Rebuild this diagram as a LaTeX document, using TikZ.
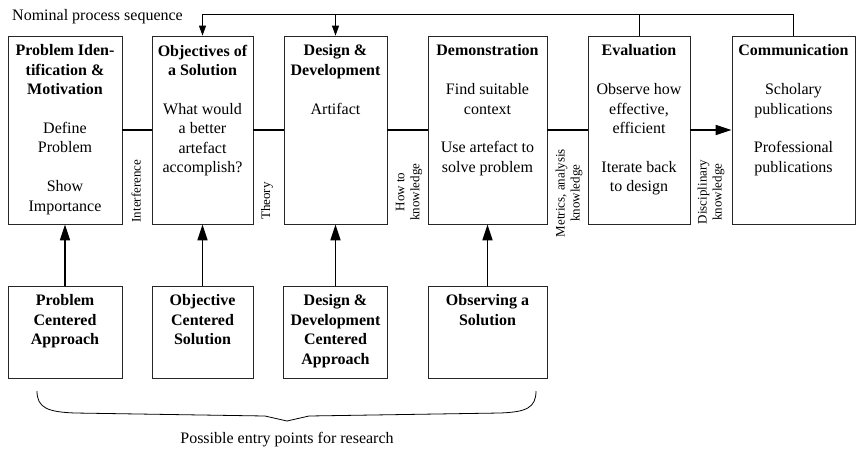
\documentclass[tikz,border=0pt]{standalone}
\usepackage{fontspec}
\setmainfont{Liberation Serif}
\usetikzlibrary{arrows.meta}
\begin{document}
\begin{tikzpicture}[x=1pt,y=-1pt,
  box/.style={draw=black!85, line width=0.8pt, inner sep=0pt},
  boxtext/.style={anchor=north, align=center, inner sep=0pt, yshift=-9pt,
    font=\fontsize{16}{19.4}\selectfont},
  sidelabel/.style={rotate=90, align=center, inner sep=0pt,
    font=\fontsize{13}{15}\selectfont},
  plain/.style={inner sep=0pt, font=\fontsize{16}{19.4}\selectfont},
  link/.style={line width=1.5pt},
  linktip/.style={line width=1.5pt, -{Triangle[length=16pt,width=10pt]}},
  uparrow/.style={line width=1.6pt, -{Triangle[length=16pt,width=10pt]}},
  feed/.style={line width=0.9pt},
  feedtip/.style={line width=0.9pt, -{Triangle[length=10pt,width=7pt]}},
  brace/.style={line width=0.8pt},
]
\useasboundingbox (0,0) rectangle (857,451);

% process stages
\node[box, minimum width=114pt, minimum height=188pt] (b1) at (65,130) {};
\node[box, minimum width=101pt, minimum height=188pt] (b2) at (202.5,130) {};
\node[box, minimum width=103pt, minimum height=188pt] (b3) at (335.5,130) {};
\node[box, minimum width=119pt, minimum height=188pt] (b4) at (487.5,130) {};
\node[box, minimum width=102pt, minimum height=188pt] (b5) at (639,130) {};
\node[box, minimum width=123pt, minimum height=188pt] (b6) at (793.5,130) {};

\node[boxtext] (t1) at (b1.north) {\textbf{Problem Iden-}\\\textbf{tification \&}\\\textbf{Motivation}\\[19.4pt]
  Define\\Problem\\[19.4pt]Show\\Importance};
\node[boxtext] (t2) at (b2.north) {\textbf{Objectives of}\\\textbf{a Solution}\\[19.4pt]
  What would\\a better\\artefact\\accomplish?};
\node[boxtext] (t3) at (b3.north) {\textbf{Design \&}\\\textbf{Development}\\[19.4pt]Artifact};
\node[boxtext] (t4) at (b4.north) {\textbf{Demonstration}\\[19.4pt]
  Find suitable\\context\\[19.4pt]Use artefact to\\solve problem};
\node[boxtext] (t5) at (b5.north) {\textbf{Evaluation}\\[19.4pt]
  Observe how\\effective,\\efficient\\[19.4pt]Iterate back\\to design};
\node[boxtext] (t6) at (b6.north) {\textbf{Communication}\\[19.4pt]
  Scholary\\publications\\[19.4pt]Professional\\publications};

% entry points
\node[box, minimum width=114pt, minimum height=92pt] (p1) at (65,332) {};
\node[box, minimum width=101pt, minimum height=92pt] (p2) at (202.5,332) {};
\node[box, minimum width=104pt, minimum height=92pt] (p3) at (335.5,332) {};
\node[box, minimum width=119pt, minimum height=92pt] (p4) at (487.5,332) {};

\node[boxtext, font=\fontsize{16}{19.4}\selectfont\bfseries] (q1) at (p1.north) {Problem\\Centered\\Approach};
\node[boxtext, font=\fontsize{16}{19.4}\selectfont\bfseries] (q2) at (p2.north) {Objective\\Centered\\Solution};
\node[boxtext, font=\fontsize{16}{19.4}\selectfont\bfseries] (q3) at (p3.north) {Design \&\\Development\\Centered\\Approach};
\node[boxtext, font=\fontsize{16}{19.4}\selectfont\bfseries] (q4) at (p4.north) {Observing a\\Solution};

% nominal sequence
\draw[link] (b1.east) -- (b2.west);
\draw[link] (b2.east) -- (b3.west);
\draw[link] (b3.east) -- (b4.west);
\draw[link] (b4.east) -- (b5.west);
\draw[linktip] (b5.east) -- (b6.west);

% knowledge flowing between stages
\node[sidelabel] (k1) at (136,191) {Interference};
\node[sidelabel] (k2) at (267,201) {Theory};
\node[sidelabel] (k3) at (409,192) {How to\\knowledge};
\node[sidelabel] (k4) at (569,193) {Metrics, analysis\\knowledge};
\node[sidelabel] (k5) at (711,192) {Disciplinary\\knowledge};

% entry points feed the stages
\draw[uparrow] (p1.north) -- (b1.south);
\draw[uparrow] (p2.north) -- (b2.south);
\draw[uparrow] (p3.north) -- (b3.south);
\draw[uparrow] (p4.north) -- (b4.south);

% iteration back to earlier stages
\coordinate (fb) at (0,14);
\node[plain, anchor=base west] (nominal) at (12,20.5) {Nominal process sequence};
\draw[feedtip] (b6.north) -- (b6.north |- fb) -- (b2.north |- fb) -- (b2.north);
\draw[feed] (b5.north) -- (b5.north |- fb);
\draw[feedtip] (b3.north |- fb) -- (b3.north);

% brace over the entry points
\draw[brace] (37,391) .. controls (37,408) and (48,412) .. (75,413)
  -- (265,416) -- (287,421) -- (309,416) -- (500,413)
  .. controls (526,412) and (536,408) .. (536,391);
\node[plain] (entry) at (287,440) {Possible entry points for research};
\end{tikzpicture}
\end{document}
